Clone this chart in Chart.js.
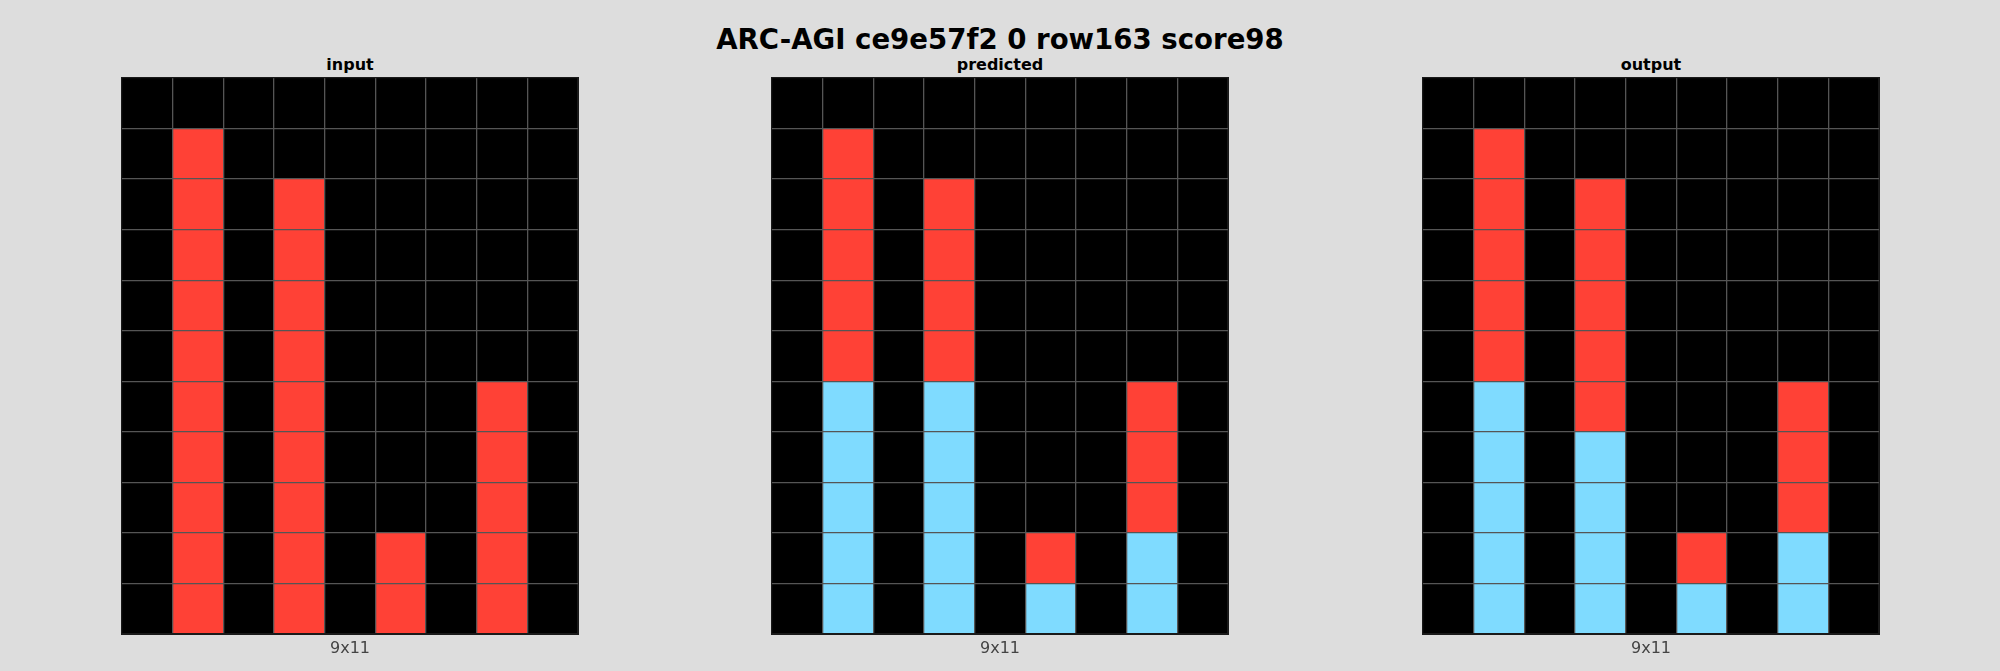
<!DOCTYPE html>
<html>
<head>
<meta charset="utf-8">
<script src="https://cdn.jsdelivr.net/npm/chart.js@4.4.1/dist/chart.umd.min.js"></script>
<style>
  html, body { margin: 0; padding: 0; background: #dddddd; }
  body { width: 2000px; height: 671px; position: relative; overflow: hidden; font-family: 'DejaVu Sans', sans-serif; }
  .title { position: absolute; left: 0; width: 2000px; top: 23px; text-align: center; font-weight: bold; font-size: 27.6px; line-height: 34px; color: #000; }
  .panel-title { position: absolute; width: 456px; text-align: center; font-weight: bold; font-size: 16px; line-height: 20px; top: 55px; color: #000; }
  .panel-size { position: absolute; width: 456px; text-align: center; font-size: 16px; line-height: 20px; top: 638px; color: #444; }
  .panel { position: absolute; top: 78px; width: 456px; height: 556px; outline: 1px solid #1a1a1a; }
</style>
</head>
<body>
<div class="title">ARC-AGI ce9e57f2 0 row163 score98</div>

<div class="panel-title" style="left:122px">input</div>
<div class="panel" style="left:122px"><canvas id="inputChart" width="456" height="556"></canvas></div>
<div class="panel-size" style="left:122px">9x11</div>

<div class="panel-title" style="left:772px">predicted</div>
<div class="panel" style="left:772px"><canvas id="predictedChart" width="456" height="556"></canvas></div>
<div class="panel-size" style="left:772px">9x11</div>

<div class="panel-title" style="left:1423px">output</div>
<div class="panel" style="left:1423px"><canvas id="outputChart" width="456" height="556"></canvas></div>
<div class="panel-size" style="left:1423px">9x11</div>

<script>
// --- Data ---
// ARC colour index -> colour (0 black, 2 red, 8 light blue)
const palette = { 0: '#000000', 2: '#ff4136', 8: '#7fdbff' };
const columnLabels = ['0', '1', '2', '3', '4', '5', '6', '7', '8'];

// rows listed top to bottom
const inputGrid = [
  [0, 0, 0, 0, 0, 0, 0, 0, 0],
  [0, 2, 0, 0, 0, 0, 0, 0, 0],
  [0, 2, 0, 2, 0, 0, 0, 0, 0],
  [0, 2, 0, 2, 0, 0, 0, 0, 0],
  [0, 2, 0, 2, 0, 0, 0, 0, 0],
  [0, 2, 0, 2, 0, 0, 0, 0, 0],
  [0, 2, 0, 2, 0, 0, 0, 2, 0],
  [0, 2, 0, 2, 0, 0, 0, 2, 0],
  [0, 2, 0, 2, 0, 0, 0, 2, 0],
  [0, 2, 0, 2, 0, 2, 0, 2, 0],
  [0, 2, 0, 2, 0, 2, 0, 2, 0]
];

const predictedGrid = [
  [0, 0, 0, 0, 0, 0, 0, 0, 0],
  [0, 2, 0, 0, 0, 0, 0, 0, 0],
  [0, 2, 0, 2, 0, 0, 0, 0, 0],
  [0, 2, 0, 2, 0, 0, 0, 0, 0],
  [0, 2, 0, 2, 0, 0, 0, 0, 0],
  [0, 2, 0, 2, 0, 0, 0, 0, 0],
  [0, 8, 0, 8, 0, 0, 0, 2, 0],
  [0, 8, 0, 8, 0, 0, 0, 2, 0],
  [0, 8, 0, 8, 0, 0, 0, 2, 0],
  [0, 8, 0, 8, 0, 2, 0, 8, 0],
  [0, 8, 0, 8, 0, 8, 0, 8, 0]
];

const outputGrid = [
  [0, 0, 0, 0, 0, 0, 0, 0, 0],
  [0, 2, 0, 0, 0, 0, 0, 0, 0],
  [0, 2, 0, 2, 0, 0, 0, 0, 0],
  [0, 2, 0, 2, 0, 0, 0, 0, 0],
  [0, 2, 0, 2, 0, 0, 0, 0, 0],
  [0, 2, 0, 2, 0, 0, 0, 0, 0],
  [0, 8, 0, 2, 0, 0, 0, 2, 0],
  [0, 8, 0, 8, 0, 0, 0, 2, 0],
  [0, 8, 0, 8, 0, 0, 0, 2, 0],
  [0, 8, 0, 8, 0, 2, 0, 8, 0],
  [0, 8, 0, 8, 0, 8, 0, 8, 0]
];

// --- Chart building ---
// each grid row becomes one stacked dataset of unit-height bars, bottom row first
function gridDatasets(grid) {
  return grid.slice().reverse().map((row, i) => ({
    label: 'row ' + (grid.length - 1 - i),
    data: row.map(() => 1),
    backgroundColor: row.map(v => palette[v]),
    borderWidth: 0,
    barPercentage: 1,
    categoryPercentage: 1
  }));
}

// inner lines grey, the two outer lines dark like the frame
function lineColor(last) {
  return (c) => (c.index === undefined || c.index === 0 || c.index >= last) ? '#1a1a1a' : '#555555';
}

function drawGrid(canvasId, grid) {
  const ctx = document.getElementById(canvasId).getContext('2d');
  return new Chart(ctx, {
    type: 'bar',
    data: { labels: columnLabels, datasets: gridDatasets(grid) },
    options: {
      responsive: false,
      animation: false,
      devicePixelRatio: 1,
      layout: { padding: 0 },
      plugins: { legend: { display: false }, tooltip: { enabled: false } },
      scales: {
        x: {
          stacked: true,
          offset: true,
          // grid lines on top of the cells
          grid: { z: 1, color: lineColor(columnLabels.length), lineWidth: 1.3, offset: true, drawTicks: false },
          border: { display: false },
          ticks: { display: false }
        },
        y: {
          stacked: true,
          min: 0,
          max: grid.length,
          grid: { z: 1, color: lineColor(grid.length), lineWidth: 1.3, drawTicks: false },
          border: { display: false },
          ticks: { display: false, stepSize: 1 }
        }
      }
    }
  });
}

drawGrid('inputChart', inputGrid);
drawGrid('predictedChart', predictedGrid);
drawGrid('outputChart', outputGrid);
</script>
</body>
</html>
